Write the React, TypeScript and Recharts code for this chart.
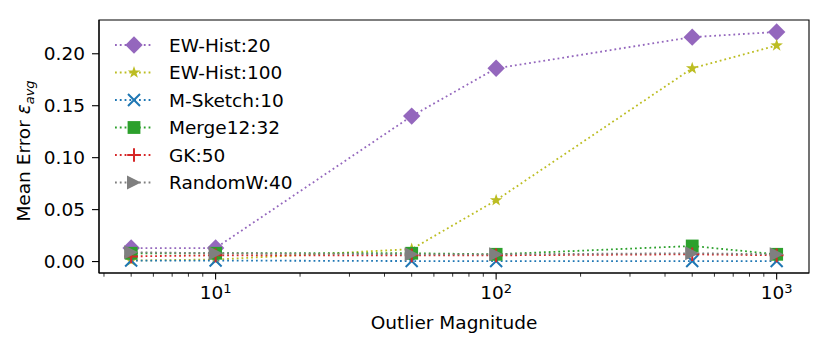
import React from 'react';
import { LineChart, Line, XAxis, YAxis, ReferenceArea } from 'recharts';

const magnitudes = [5, 10, 50, 100, 500, 1000];
const ewHist20 = [0.013, 0.013, 0.14, 0.186, 0.216, 0.221];
const ewHist100 = [0.001, 0.002, 0.012, 0.059, 0.186, 0.208];
const mSketch10 = [0.001, 0.001, 0.0005, 0.0005, 0.0005, 0.0005];
const merge1232 = [0.008, 0.008, 0.008, 0.007, 0.015, 0.007];
const gk50 = [0.005, 0.006, 0.006, 0.006, 0.007, 0.006];
const randomW40 = [0.009, 0.008, 0.007, 0.007, 0.008, 0.007];

const xMajorTicks = [10, 100, 1000];
const xMinorTicks = [4, 5, 6, 7, 8, 9, 20, 30, 40, 50, 60, 70, 80, 90, 200, 300, 400, 500, 600, 700, 800, 900];
const yTicks = [0, 0.05, 0.1, 0.15, 0.2];

const xDomain = [3.84, 1304];
const yDomain = [-0.011, 0.2325];

const FONT = '"DejaVu Sans", sans-serif';

type Kind = 'diamond' | 'star' | 'x' | 'square' | 'plus' | 'triangle';

const series: { key: string; name: string; color: string; kind: Kind; values: number[] }[] = [
  { key: 'ew20', name: 'EW-Hist:20', color: '#9467bd', kind: 'diamond', values: ewHist20 },
  { key: 'ew100', name: 'EW-Hist:100', color: '#bcbd22', kind: 'star', values: ewHist100 },
  { key: 'ms10', name: 'M-Sketch:10', color: '#1f77b4', kind: 'x', values: mSketch10 },
  { key: 'merge', name: 'Merge12:32', color: '#2ca02c', kind: 'square', values: merge1232 },
  { key: 'gk', name: 'GK:50', color: '#d62728', kind: 'plus', values: gk50 },
  { key: 'rw', name: 'RandomW:40', color: '#7f7f7f', kind: 'triangle', values: randomW40 },
];

const data = magnitudes.map((x, i) => {
  const row: Record<string, number> = { x };
  series.forEach(s => { row[s.key] = s.values[i]; });
  return row;
});

const Marker = ({ kind, cx, cy, color }: { kind: Kind; cx: number; cy: number; color: string }) => {
  switch (kind) {
    case 'diamond': {
      const r = 8.7;
      return <polygon points={`${cx},${cy - r} ${cx + r},${cy} ${cx},${cy + r} ${cx - r},${cy}`} fill={color} />;
    }
    case 'star': {
      const pts: string[] = [];
      for (let i = 0; i < 10; i++) {
        const r = i % 2 === 0 ? 6.6 : 2.6;
        const a = -Math.PI / 2 + (i * Math.PI) / 5;
        pts.push(`${cx + r * Math.cos(a)},${cy + r * Math.sin(a)}`);
      }
      return <polygon points={pts.join(' ')} fill={color} />;
    }
    case 'x': {
      const r = 6;
      return (
        <path d={`M${cx - r},${cy - r}L${cx + r},${cy + r}M${cx - r},${cy + r}L${cx + r},${cy - r}`}
          stroke={color} strokeWidth={2} fill="none" />
      );
    }
    case 'square': {
      const r = 6.4;
      return <rect x={cx - r} y={cy - r} width={2 * r} height={2 * r} fill={color} />;
    }
    case 'plus': {
      const r = 6.8;
      return (
        <path d={`M${cx - r},${cy}L${cx + r},${cy}M${cx},${cy - r}L${cx},${cy + r}`}
          stroke={color} strokeWidth={2} fill="none" />
      );
    }
    default: {
      const r = 7;
      return <polygon points={`${cx + r},${cy} ${cx - r},${cy - r} ${cx - r},${cy + r}`} fill={color} />;
    }
  }
};

const XTick = (props: any) => {
  const { x, y, payload } = props;
  const v = payload.value;
  const major = xMajorTicks.includes(v);
  return (
    <g>
      <line x1={x} x2={x} y1={y} y2={y + (major ? 6.5 : 3.7)} stroke="#000" strokeWidth={major ? 1.1 : 0.8} />
      {major && (
        <text x={x} y={y + 26} textAnchor="middle" fontSize={18.5} fontFamily={FONT} fill="#000">
          <tspan>10</tspan>
          <tspan dy={-6.5} fontSize={13}>{Math.round(Math.log10(v))}</tspan>
        </text>
      )}
    </g>
  );
};

const Legend = () => (
  <svg width={830} height={346} style={{ position: 'absolute', left: 0, top: 0, pointerEvents: 'none' }}>
    {series.map((s, i) => {
      const y = 45 + i * 27.5;
      return (
        <g key={s.key}>
          <line x1={115} x2={153} y1={y} y2={y} stroke={s.color} strokeWidth={1.8} strokeDasharray="1.8 3" />
          <Marker kind={s.kind} cx={134} cy={y} color={s.color} />
          <text x={169} y={y} dy="0.36em" fontSize={18.5} fontFamily={FONT} fill="#000">{s.name}</text>
        </g>
      );
    })}
  </svg>
);

export default function App() {
  return (
    <div style={{ position: 'absolute', left: 0, top: 0, width: 830, height: 346, background: '#fff', fontFamily: FONT }}>
      <LineChart width={830} height={346} data={data} margin={{ top: 20, right: 21, bottom: 0, left: 0 }}>
        <ReferenceArea x1={xDomain[0]} x2={xDomain[1]} y1={yDomain[0]} y2={yDomain[1]}
          fill="none" stroke="#000" strokeWidth={1.1} ifOverflow="visible" />
        <XAxis
          dataKey="x"
          type="number"
          scale="log"
          domain={xDomain}
          allowDataOverflow
          ticks={[...xMajorTicks, ...xMinorTicks].sort((a, b) => a - b)}
          interval={0}
          height={73}
          tickSize={0}
          tickMargin={0}
          tickLine={false}
          axisLine={{ stroke: '#000', strokeWidth: 1.1 }}
          tick={<XTick />}
          label={(p: any) => {
            const vb = p.viewBox || {};
            return (
              <text x={(vb.x ?? 99) + (vb.width ?? 710) / 2} y={322} dy="0.36em" textAnchor="middle"
                fontSize={18.5} fontFamily={FONT} fill="#000">Outlier Magnitude</text>
            );
          }}
        />
        <YAxis
          type="number"
          domain={yDomain}
          allowDataOverflow
          ticks={yTicks}
          interval={0}
          width={99}
          tickSize={7}
          tickMargin={7}
          tickFormatter={(v: number) => v.toFixed(2)}
          tick={{ fill: '#000', fontSize: 18.5, fontFamily: FONT }}
          tickLine={{ stroke: '#000', strokeWidth: 1.1 }}
          axisLine={{ stroke: '#000', strokeWidth: 1.1 }}
          label={() => (
            <text transform="translate(23,151) rotate(-90)" textAnchor="middle" dy="0.36em"
              fontSize={18.5} fontFamily={FONT} fill="#000">
              <tspan>Mean Error </tspan>
              <tspan fontStyle="italic">ε</tspan>
              <tspan fontStyle="italic" fontSize={13} dy={4}>avg</tspan>
            </text>
          )}
        />
        {series.map(s => (
          <Line
            key={s.key}
            dataKey={s.key}
            name={s.name}
            type="linear"
            stroke={s.color}
            strokeWidth={1.8}
            strokeDasharray="1.8 3"
            isAnimationActive={false}
            activeDot={false}
            dot={(p: any) => <Marker key={`${s.key}-${p.index}`} kind={s.kind} cx={p.cx} cy={p.cy} color={s.color} />}
          />
        ))}
      </LineChart>
      <Legend />
    </div>
  );
}
